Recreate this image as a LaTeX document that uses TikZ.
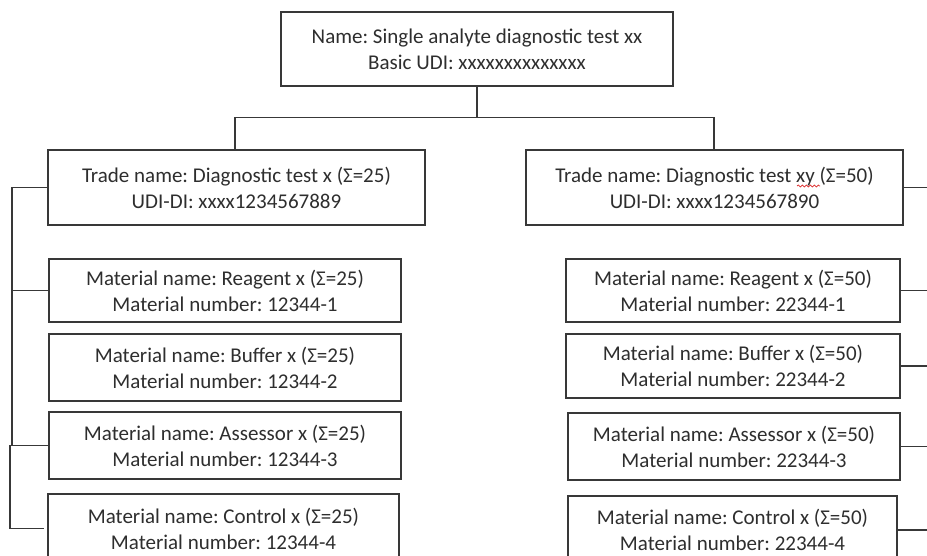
\documentclass[tikz,border=0pt]{standalone}
\usepackage{fontspec}
\setmainfont{Carlito}
\frenchspacing
\usetikzlibrary{decorations.pathmorphing}
\definecolor{txt}{gray}{0.18}
\definecolor{ln}{gray}{0.22}
\definecolor{spell}{RGB}{220,40,40}
\begin{document}
\begin{tikzpicture}[x=1pt,y=-1pt,
  box/.style={draw=ln, line width=1.3pt, rectangle, inner sep=0pt, align=center,
    text=txt, font=\fontsize{21}{26}\selectfont},
  conn/.style={draw=ln, line width=1.3pt},
  trunk/.style={draw=ln, line width=1.8pt}]
\useasboundingbox (0,0) rectangle (927,556);
\fill[white] (0,0) rectangle (927,556);
\clip (0,0) rectangle (927,556);

\node[box, minimum width=392pt, minimum height=74pt] (top) at (477,49)
  {Name: Single analyte diagnostic test xx\\Basic UDI: xxxxxxxxxxxxxx};

\node[box, minimum width=377pt, minimum height=75pt] (tl) at (236.5,187.5)
  {Trade name: Diagnostic test x (Σ=25)\\UDI-DI: xxxx1234567889};
\node[box, minimum width=377pt, minimum height=75pt] (tr) at (714.5,187.5)
  {Trade name: Diagnostic test xy (Σ=50)\\UDI-DI: xxxx1234567890};

\node[box, minimum width=352pt, minimum height=63pt] (l1) at (225,290.5)
  {Material name: Reagent x (Σ=25)\\Material number: 12344-1};
\node[box, minimum width=352pt, minimum height=67pt] (l2) at (225,367.5)
  {Material name: Buffer x (Σ=25)\\Material number: 12344-2};
\node[box, minimum width=352pt, minimum height=67pt] (l3) at (225,445.5)
  {Material name: Assessor x (Σ=25)\\Material number: 12344-3};
\node[box, minimum width=351pt, minimum height=69pt] (l4) at (223.5,528.5)
  {Material name: Control x (Σ=25)\\Material number: 12344-4};

\node[box, minimum width=334pt, minimum height=63pt] (r1) at (733,290.5)
  {Material name: Reagent x (Σ=50)\\Material number: 22344-1};
\node[box, minimum width=334pt, minimum height=64pt] (r2) at (733,366)
  {Material name: Buffer x (Σ=50)\\Material number: 22344-2};
\node[box, minimum width=332pt, minimum height=67pt] (r3) at (734,446.5)
  {Material name: Assessor x (Σ=50)\\Material number: 22344-3};
\node[box, minimum width=329pt, minimum height=68pt] (r4) at (732.5,530)
  {Material name: Control x (Σ=50)\\Material number: 22344-4};

% spell-check squiggle under "xy"
\draw[spell, line width=0.7pt, decorate,
  decoration={snake, amplitude=1pt, segment length=4pt}] (797,186) -- (820,186);

% trunk from top box
\coordinate (hy) at (0,117.5);
\coordinate (xl) at (235,0);
\coordinate (xr) at (714,0);
\draw[trunk] (top.south) -- (top.south |- hy);
\draw[trunk] (xl |- tl.north) -- (xl |- hy) -- (xr |- hy) -- (xr |- tr.north);

% left side bracket
\coordinate (lv) at (12,0);
\coordinate (lw) at (10,0);
\coordinate (le) at (44,0);
\draw[conn] (tl.west) -- (tl.west -| lv) -- (l3.west -| lv);
\draw[conn] (l1.west) -- (l1.west -| lv);
\draw[conn] (l3.west) -- (l3.west -| lw) -- (l4.west -| lw) -- (l4.west -| le);

% right side stubs
\coordinate (re) at (930,0);
\draw[conn] (tr.east) -- (tr.east -| re);
\draw[conn] (r1.east) -- (r1.east -| re);
\draw[conn] (r2.east) -- (r2.east -| re);
\draw[conn] (r3.east) -- (r3.east -| re);
\draw[conn] (r4.east) -- (r4.east -| re);
\end{tikzpicture}
\end{document}
